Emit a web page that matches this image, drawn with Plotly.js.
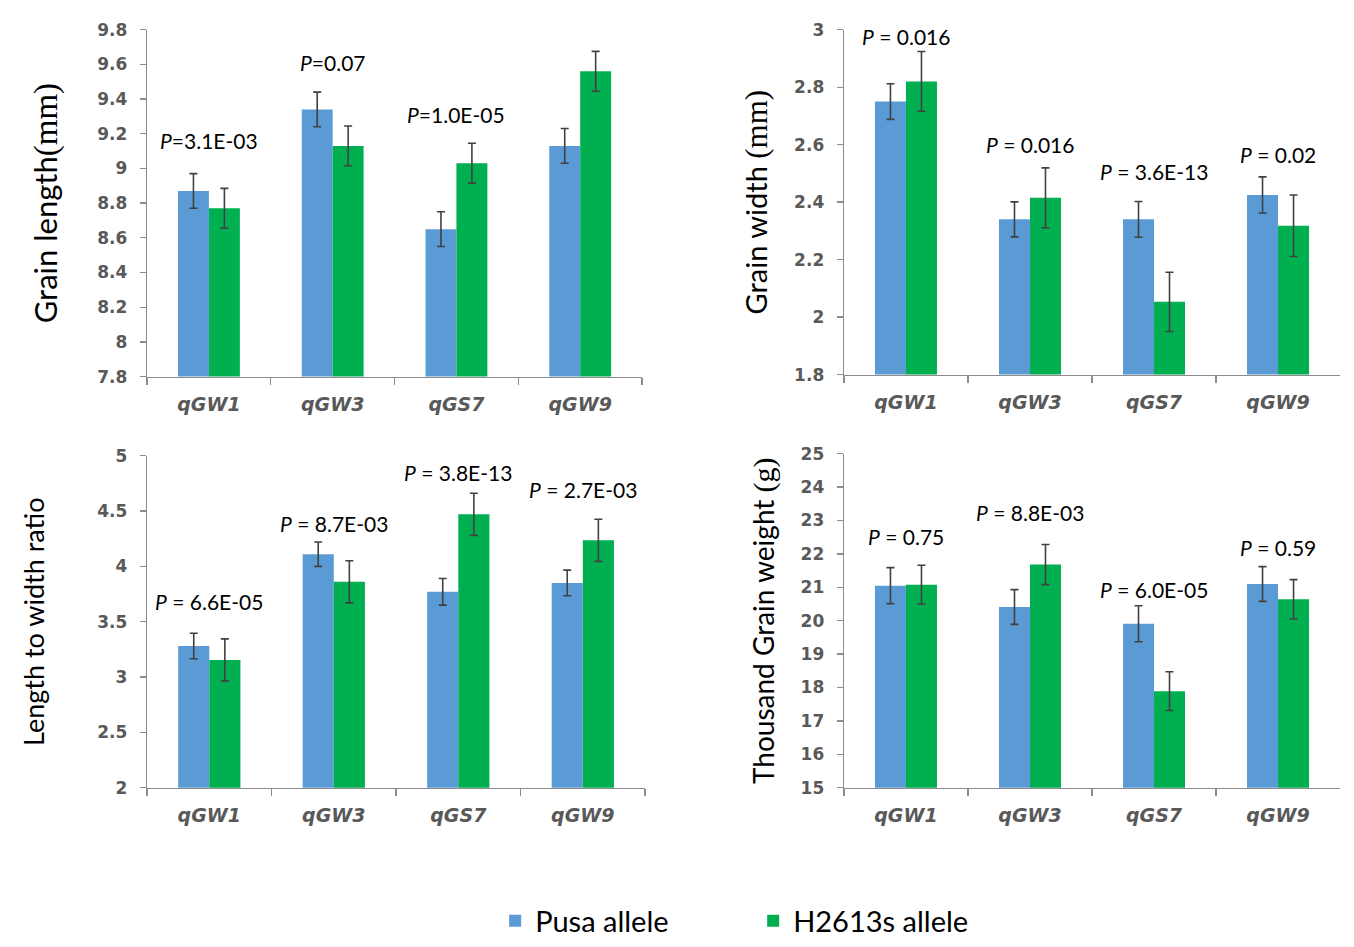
<!DOCTYPE html>
<html>
<head>
<meta charset="utf-8">
<script src="https://cdn.plot.ly/plotly-3.0.1.min.js"></script>
<style>html,body{margin:0;padding:0;background:#fff;}#chart{width:1354px;height:947px;}</style>
</head>
<body>
<div id="chart"></div>
<script>
// ---- data ----
const categories = ['qGW1', 'qGW3', 'qGS7', 'qGW9'];
const seriesNames = ['Pusa allele', 'H2613s allele'];

const lengthPusa = [8.87, 9.34, 8.65, 9.13];
const lengthPusaErr = [0.10, 0.10, 0.10, 0.10];
const lengthH2613 = [8.77, 9.13, 9.03, 9.56];
const lengthH2613Err = [0.115, 0.115, 0.115, 0.115];
const lengthP = ['3.1E-03', '0.07', '1.0E-05', '3.2E-03'];
const lengthPy = [9.16, 9.61, 9.31, 9.86];

const widthPusa = [2.75, 2.34, 2.34, 2.425];
const widthPusaErr = [0.062, 0.061, 0.062, 0.063];
const widthH2613 = [2.82, 2.415, 2.053, 2.318];
const widthH2613Err = [0.104, 0.104, 0.103, 0.107];
const widthP = ['0.016', '0.016', '3.6E-13', '0.02'];
const widthPy = [2.976, 2.60, 2.505, 2.567];

const ratioPusa = [3.28, 4.11, 3.77, 3.85];
const ratioPusaErr = [0.115, 0.11, 0.12, 0.116];
const ratioH2613 = [3.155, 3.86, 4.47, 4.235];
const ratioH2613Err = [0.19, 0.19, 0.19, 0.19];
const ratioP = ['6.6E-05', '8.7E-03', '3.8E-13', '2.7E-03'];
const ratioPy = [3.68, 4.39, 4.85, 4.69];

const tgwPusa = [21.05, 20.41, 19.91, 21.10];
const tgwPusaErr = [0.54, 0.52, 0.54, 0.52];
const tgwH2613 = [21.08, 21.68, 17.89, 20.64];
const tgwH2613Err = [0.58, 0.60, 0.58, 0.59];
const tgwP = ['0.75', '8.8E-03', '6.0E-05', '0.59'];
const tgwPy = [22.51, 23.25, 20.92, 22.19];

// ---- styles ----
const BLUE = '#5B9BD5';
const GREEN = '#00B050';
const AXIS_GREY = '#8C8C8C';
const TICK_TXT = '#595959';
const ERR_COL = '#404040';

function barPair(xa, ya, pusa, pusaErr, h, hErr, showLeg) {
  const mk = (name, y, err, color) => ({
    type: 'bar', name: name, x: categories, y: y,
    xaxis: xa, yaxis: ya, showlegend: showLeg,
    marker: {color: color},
    error_y: {type: 'data', array: err, visible: true, color: ERR_COL, thickness: 1.6, width: 4},
    hoverinfo: 'x+y'
  });
  return [mk(seriesNames[0], pusa, pusaErr, BLUE), mk(seriesNames[1], h, hErr, GREEN)];
}

const data = [].concat(
  barPair('x', 'y', lengthPusa, lengthPusaErr, lengthH2613, lengthH2613Err, true),
  barPair('x2', 'y2', widthPusa, widthPusaErr, widthH2613, widthH2613Err, false),
  barPair('x3', 'y3', ratioPusa, ratioPusaErr, ratioH2613, ratioH2613Err, false),
  barPair('x4', 'y4', tgwPusa, tgwPusaErr, tgwH2613, tgwH2613Err, false)
);

const tickFontY = {family: 'DejaVu Sans, sans-serif', size: 17, color: TICK_TXT, weight: 'bold'};
const tickFontX = {family: 'DejaVu Sans, sans-serif', size: 19, color: TICK_TXT, weight: 'bold', style: 'italic'};
const titleFont = (s) => ({family: 'Lato, Open Sans, sans-serif', size: s, color: '#000'});

function xAxis(domain, anchor) {
  return {
    domain: domain, anchor: anchor, type: 'category',
    showline: true, linecolor: AXIS_GREY, linewidth: 1.3,
    ticks: 'outside', tickson: 'boundaries', ticklen: 7, tickcolor: AXIS_GREY, tickwidth: 1.3,
    tickfont: tickFontX, showgrid: false, zeroline: false, fixedrange: true,
    ticklabelstandoff: 10
  };
}
function yAxis(domain, anchor, range, dtick, titleText, fs, standoff) {
  return {
    domain: domain, anchor: anchor, range: range, dtick: dtick, tick0: range[0],
    showline: true, linecolor: AXIS_GREY, linewidth: 1.3,
    ticks: 'outside', ticklen: 6, tickcolor: AXIS_GREY, tickwidth: 1.3,
    tickfont: tickFontY, showgrid: false, zeroline: false, fixedrange: true,
    ticklabelstandoff: 9,
    title: {text: titleText, font: titleFont(fs), standoff: standoff}
  };
}

const serif = (t, s) => '<span style="font-family:\'Liberation Serif\',serif;font-size:' + s + 'px;">' + t + '</span>';
const layout = {
  width: 1354, height: 947,
  margin: {l: 0, r: 0, t: 0, b: 0},
  paper_bgcolor: '#fff', plot_bgcolor: '#fff',
  barmode: 'group', bargap: 0.5, bargroupgap: 0,
  xaxis: xAxis([0.1086, 0.4742], 'y'),
  yaxis: yAxis([0.5977, 0.9683], 'x', [7.8, 9.8], 0.2, 'Grain length' + serif('(mm)', 33), 31, 30),
  xaxis2: xAxis([0.6233, 0.9897], 'y2'),
  yaxis2: yAxis([0.5998, 0.9683], 'x2', [1.8, 3.0], 0.2, 'Grain width ' + serif('(mm)', 31), 29, 18),
  xaxis3: xAxis([0.1086, 0.4764], 'y3'),
  yaxis3: yAxis([0.1584, 0.5132], 'x3', [2, 5], 0.5, 'Length to width ratio', 27, 44),
  xaxis4: xAxis([0.6233, 0.9897], 'y4'),
  yaxis4: yAxis([0.1584, 0.5153], 'x4', [15, 25], 1, 'Thousand Grain weight ' + serif('(g)', 30), 28, 17),
  showlegend: true,
  legend: {
    orientation: 'h', x: 0.3657, xanchor: 'left', y: 0.016, yanchor: 'middle',
    font: {family: 'Lato, Open Sans, sans-serif', size: 29, color: '#000'},
    entrywidth: 213, entrywidthmode: 'pixels', itemwidth: 30,
    bgcolor: 'rgba(0,0,0,0)'
  },
  annotations: []
};

function addP(xa, ya, labels, ys, compact) {
  labels.forEach((lab, i) => {
    layout.annotations.push({
      xref: xa, yref: ya, x: categories[i], y: ys[i],
      text: '<i>P</i>' + (compact ? '=' : ' = ') + lab,
      showarrow: false, xanchor: 'center', yanchor: 'middle',
      font: {family: 'Lato, Open Sans, sans-serif', size: 21, color: '#000'}
    });
  });
}
addP('x', 'y', lengthP, lengthPy, true);
addP('x2', 'y2', widthP, widthPy, false);
addP('x3', 'y3', ratioP, ratioPy, false);
addP('x4', 'y4', tgwP, tgwPy, false);

Plotly.newPlot('chart', data, layout, {displayModeBar: false, staticPlot: true});
</script>
</body>
</html>
